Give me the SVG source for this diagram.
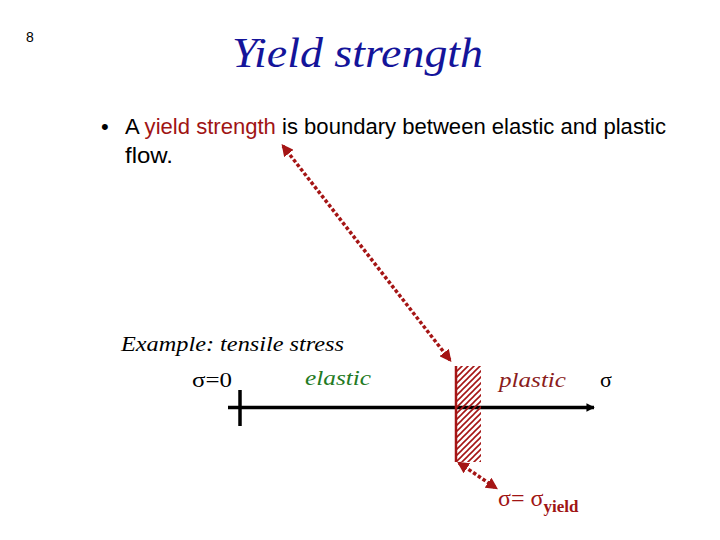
<svg xmlns="http://www.w3.org/2000/svg" width="720" height="540" viewBox="0 0 720 540">
<style>
.num{font-family:"Liberation Sans",Arial,sans-serif;font-size:14px;fill:#000}
.title{font-family:"Liberation Serif","DejaVu Serif",serif;font-style:italic;font-size:43px;fill:#14149a}
.body{font-family:"Liberation Sans",Arial,sans-serif;font-size:22px;fill:#000}
.red{fill:#a01414}
.ex{font-family:"Liberation Serif","DejaVu Serif",serif;font-style:italic;font-size:22px;fill:#000}
.sym{font-family:"Liberation Serif","DejaVu Serif",serif;font-size:22px;fill:#000}
.elastic{font-family:"Liberation Serif",serif;font-style:italic;font-size:22px;fill:#237a23}
.plastic{font-family:"Liberation Serif",serif;font-style:italic;font-size:22px;fill:#8a1c1c}
.sy{font-family:"Liberation Serif",serif;font-size:24px;fill:#a01414}
.dot{fill:none;stroke:#a51515;stroke-width:3.5;stroke-dasharray:3.5 2.2}
</style>
<defs>
<marker id="ah" viewBox="0 0 10 10" refX="8" refY="5" markerWidth="3.4" markerHeight="3.4" orient="auto-start-reverse" markerUnits="strokeWidth">
<path d="M0,0 L10,5 L0,10 Z" fill="#a51515"/>
</marker>
<marker id="axh" viewBox="0 0 10 10" refX="9" refY="5" markerWidth="2.4" markerHeight="2.4" orient="auto" markerUnits="strokeWidth">
<path d="M0,0 L10,5 L0,10 Z" fill="#000"/>
</marker>
<pattern id="hatch" patternUnits="userSpaceOnUse" width="6" height="6">
<path d="M-1,1 L1,-1 M0,6 L6,0 M5,7 L7,5" stroke="#a51515" stroke-width="1.6"/>
</pattern>
</defs>
<g id="page-number"><text class="num" x="26" y="42">8</text></g>
<g id="title"><text class="title" x="232" y="67" textLength="251" lengthAdjust="spacingAndGlyphs">Yield strength</text></g>
<g id="bullet">
<text class="body" x="101" y="134">•</text>
<text class="body" x="125" y="134" textLength="541" lengthAdjust="spacingAndGlyphs">A <tspan class="red">yield strength</tspan> is boundary between elastic and plastic</text>
<text class="body" x="125" y="163" textLength="48" lengthAdjust="spacingAndGlyphs">flow.</text>
</g>
<g id="example"><text class="ex" x="121" y="351" textLength="223" lengthAdjust="spacingAndGlyphs">Example: tensile stress</text></g>
<g id="axis">
<line x1="228" y1="407.5" x2="594" y2="407.5" stroke="#000" stroke-width="3.5" marker-end="url(#axh)"/>
<line x1="240" y1="390" x2="240" y2="426" stroke="#000" stroke-width="3.5"/>
<text class="sym" x="192" y="387" textLength="40" lengthAdjust="spacingAndGlyphs">σ=0</text>
<text class="sym" x="600" y="387" font-size="24">σ</text>
</g>
<g id="elastic"><text class="elastic" x="305" y="385" textLength="66" lengthAdjust="spacingAndGlyphs">elastic</text></g>
<g id="plastic"><text class="plastic" x="499" y="387" textLength="67" lengthAdjust="spacingAndGlyphs">plastic</text></g>
<g id="yield-boundary">
<rect x="455" y="366" width="26" height="96" fill="url(#hatch)"/>
<line x1="456" y1="366" x2="456" y2="462" stroke="#a51515" stroke-width="2.5"/>
</g>
<g id="sigma-yield"><text class="sy" x="498" y="506">σ= σ<tspan font-size="17" font-weight="bold" dy="6">yield</tspan></text></g>
<g id="connectors">
<line class="dot" x1="283" y1="146" x2="450" y2="360" marker-start="url(#ah)" marker-end="url(#ah)"/>
<line class="dot" x1="459" y1="463" x2="496" y2="488" marker-start="url(#ah)" marker-end="url(#ah)"/>
</g>
</svg>
